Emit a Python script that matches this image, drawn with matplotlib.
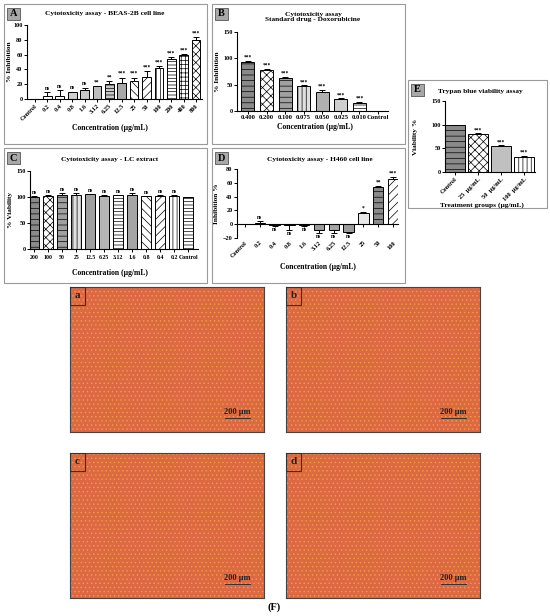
import numpy as np
import matplotlib
matplotlib.use('Agg')
import matplotlib.pyplot as plt
from matplotlib.patches import Rectangle

plt.rcParams['font.family'] = ['Liberation Serif', 'DejaVu Serif']
plt.rcParams['font.weight'] = 'bold'
plt.rcParams['axes.labelweight'] = 'bold'
plt.rcParams['hatch.linewidth'] = 0.5
plt.rcParams['axes.linewidth'] = 0.8

W, H = 550, 616

# ---------------- datos ----------------
a_conc = ['Control', '0.2', '0.4', '0.8', '1.6', '3.12', '6.25', '12.5', '25', '50', '100', '200', '400', '800']
a_val = [0, 4, 4, 9, 12, 17, 20, 22, 25, 30, 42, 54, 60, 80]
a_err = [0, 5, 8, 1, 3, 1, 4, 7, 4, 8, 3, 3, 1, 4]
a_sig = ['', 'ns', 'ns', 'ns', 'ns', '**', '**', '***', '***', '***', '***', '***', '***', '***']

b_conc = ['0.400', '0.200', '0.100', '0.075', '0.050', '0.025', '0.010', 'Control']
b_val = [93, 78, 62, 47, 36, 22, 16, 0]
b_err = [2, 2, 3, 2, 4, 2, 2, 0]
b_sig = ['***', '***', '***', '***', '***', '***', '***', '']

c_conc = ['200', '100', '50', '25', '12.5', '6.25', '3.12', '1.6', '0.8', '0.4', '0.2', 'Control']
c_val = [100, 102, 104, 104, 105, 102, 103, 104, 101, 102, 102, 100]
c_err = [1, 1, 3, 3, 1, 1, 1, 4, 1, 1, 1, 0]
c_sig = ['ns'] * 11 + ['']

d_conc = ['Control', '0.2', '0.4', '0.8', '1.6', '3.12', '6.25', '12.5', '25', '50', '100']
d_val = [0, 2, -1, -1, -1, -9, -8, -11, 16, 54, 66]
d_err = [0, 2, 1, 7, 1, 4, 5, 2, 2, 2, 3]
d_sig = ['', 'ns', 'ns', 'ns', 'ns', 'ns', 'ns', 'ns', '*', '**', '***']

e_groups = ['Control', '25  µg/mL', '50  µg/mL', '100  µg/mL']
e_val = [100, 81, 55, 31]
e_err = [0, 1, 1, 3]
e_sig = ['', '***', '***', '***']

# estilos de barras (relleno, trama)
a_style = [('white', ''), ('white', ''), ('white', ''), ('#d0d0d0', ''), ('#c8c8c8', ''), ('#bdbdbd', ''),
           ('#c8c8c8', '-----'), ('#a8a8a8', ''), ('white', '\\\\\\\\'), ('white', '////'),
           ('white', '||||'), ('white', '-----'), ('white', '++++'), ('white', 'xxxx')]
b_style = [('#8a8a8a', '---'), ('white', 'xxxx'), ('#a0a0a0', '---'), ('#e0e0e0', '||||'),
           ('#b0b0b0', ''), ('#cfcfcf', ''), ('white', '-----'), ('white', '')]
c_style = [('#8a8a8a', '---'), ('white', 'xxxx'), ('#a0a0a0', '---'), ('#e0e0e0', '||||'),
           ('#a0a0a0', ''), ('#b5b5b5', ''), ('white', '-----'), ('#a5a5a5', ''),
           ('white', '\\\\\\\\'), ('white', '////'), ('white', '||||'), ('white', '-----')]
d_style = [('white', ''), ('#b0b0b0', ''), ('white', ''), ('white', ''), ('#c0c0c0', ''),
           ('#9a9a9a', ''), ('#a5a5a5', ''), ('#9a9a9a', ''), ('#e8e8e8', ''),
           ('#8a8a8a', '---'), ('white', '////')]
e_style = [('#8a8a8a', '---'), ('white', 'xxxx'), ('#c0c0c0', ''), ('white', '||||')]

fig = plt.figure(figsize=(W / 100, H / 100), dpi=100)


def px_axes(x0, y0, x1, y1):
    ax = fig.add_axes([x0 / W, 1 - y1 / H, (x1 - x0) / W, (y1 - y0) / H])
    ax._px = (x0, x1)
    return ax


def ylabel_at(ax, text, xpx, size=5.3):
    x0, x1 = ax._px
    ax.set_ylabel(text, fontsize=size)
    ax.yaxis.set_label_coords((xpx - x0) / (x1 - x0), 0.5)


def frame(x0, y0, x1, y1, letter):
    fig.patches.append(Rectangle((x0 / W, 1 - y1 / H), (x1 - x0) / W, (y1 - y0) / H,
                                 transform=fig.transFigure, fill=False, edgecolor='#9a9a9a', lw=0.8))
    fig.patches.append(Rectangle(((x0 + 3) / W, 1 - (y0 + 16) / H), 13 / W, 12 / H,
                                 transform=fig.transFigure, facecolor='#a8a8a8', edgecolor='#555555', lw=0.6))
    fig.text((x0 + 9.5) / W, 1 - (y0 + 10) / H, letter, ha='center', va='center', fontsize=7.5,
             fontweight='bold')


def barras(ax, labels, vals, errs, sigs, styles, ylim, yticks, width=0.7, gap=2.0):
    x = np.arange(len(vals))
    vals = np.array(vals, dtype=float)
    errs = np.array(errs, dtype=float)
    for i in x:
        fc, hatch = styles[i]
        ax.bar(i, vals[i], width=width, color=fc, edgecolor='black', lw=0.7, hatch=hatch, zorder=2)
    lo = np.where(vals < 0, errs, 0)
    hi = np.where(vals >= 0, errs, 0)
    ax.errorbar(x, vals, yerr=[lo, hi], fmt='none', ecolor='black', elinewidth=0.7, capsize=2, capthick=0.7,
                zorder=3)
    for i in x:
        if not sigs[i]:
            continue
        if vals[i] >= 0:
            ax.text(i, vals[i] + errs[i] + gap, sigs[i], ha='center', va='bottom', fontsize=4)
        else:
            ax.text(i, vals[i] - errs[i] - gap, sigs[i], ha='center', va='top', fontsize=4)
    ax.set_ylim(*ylim)
    ax.set_yticks(yticks)
    ax.set_xticks(x)
    ax.spines['top'].set_visible(False)
    ax.spines['right'].set_visible(False)
    ax.tick_params(length=2, width=0.7, labelsize=4.5, pad=1.2)
    for t in ax.get_yticklabels():
        t.set_fontweight('bold')
    return x


# ---------------- A ----------------
frame(4, 4, 207, 144, 'A')
ax = px_axes(27, 25, 202, 99)
barras(ax, a_conc, a_val, a_err, a_sig, a_style, (0, 100), [0, 20, 40, 60, 80, 100])
ax.set_xlim(-0.65, 13.48)
ax.set_xticklabels(a_conc, rotation=45, ha='right', rotation_mode='anchor', fontsize=4.6, fontweight='bold')
ylabel_at(ax, '% Inhibition', 12)
fig.text(105 / W, 1 - 14 / H, 'Cytotoxicity assay - BEAS-2B cell line', ha='center', va='center', fontsize=5.3)
fig.text(110 / W, 1 - 128 / H, 'Concentration (µg/mL)', ha='center', va='center', fontsize=5.5)

# ---------------- B ----------------
frame(212, 4, 405, 144, 'B')
ax = px_axes(237, 32, 388, 111)
barras(ax, b_conc, b_val, b_err, b_sig, b_style, (0, 150), [0, 50, 100, 150])
ax.set_xlim(-0.59, 7.54)
ax.set_xticklabels(b_conc, fontsize=4.8, fontweight='bold')
ylabel_at(ax, '% Inhibition', 220)
fig.text(313 / W, 1 - 17 / H, 'Cytotoxicity assay\nStandard drug - Doxorubicine', ha='center', va='center',
         fontsize=5.3, linespacing=1.2)
fig.text(315 / W, 1 - 127 / H, 'Concentration (µg/mL)', ha='center', va='center', fontsize=5.5)

# ---------------- C ----------------
frame(4, 148, 207, 283, 'C')
ax = px_axes(30, 171, 198, 249)
barras(ax, c_conc, c_val, c_err, c_sig, c_style, (0, 150), [0, 50, 100, 150], width=0.75)
ax.set_xlim(-0.3, 11.7)
ax.set_xticklabels(c_conc, fontsize=4.2, fontweight='bold')
ax.get_xticklabels()[-1].set_x(11.15)
ax.tick_params(axis='x', pad=2.5)
ylabel_at(ax, '% Viability', 13)
fig.text(110 / W, 1 - 160 / H, 'Cytotoxicity assay - LC extract', ha='center', va='center', fontsize=5.3)
fig.text(110 / W, 1 - 273 / H, 'Concentration (µg/mL)', ha='center', va='center', fontsize=5.5)

# ---------------- D ----------------
frame(212, 148, 405, 283, 'D')
ax = px_axes(237, 169, 398, 238)
barras(ax, d_conc, d_val, d_err, d_sig, d_style, (-20, 80), [-20, 0, 20, 40, 60, 80], gap=1.5)
ax.set_xlim(-0.54, 10.34)
ax.spines['bottom'].set_position(('data', 0))
ax.tick_params(axis='x', labelbottom=False)
for i, lab in enumerate(d_conc):
    ax.text(i, -23, lab, rotation=45, ha='right', va='top', rotation_mode='anchor', fontsize=4.6)
ylabel_at(ax, 'Inhibition %', 219)
fig.text(320 / W, 1 - 159 / H, 'Cytotoxicity assay - H460 cell line', ha='center', va='center', fontsize=5.3)
fig.text(318 / W, 1 - 267 / H, 'Concentration (µg/mL)', ha='center', va='center', fontsize=5.5)

# ---------------- E ----------------
frame(408, 80, 547, 208, 'E')
ax = px_axes(445, 101, 535, 172)
barras(ax, e_groups, e_val, e_err, e_sig, e_style, (0, 150), [0, 50, 100, 150], width=0.87)
ax.set_xlim(-0.43, 3.48)
ax.set_xticklabels(e_groups, rotation=45, ha='right', rotation_mode='anchor', fontsize=4.6, fontweight='bold')
ylabel_at(ax, 'Viability %', 418)
fig.text(480 / W, 1 - 91 / H, 'Trypan blue viability assay', ha='center', va='center', fontsize=5.3)
fig.text(482 / W, 1 - 205 / H, 'Treatment groups (µg/mL)', ha='center', va='center', fontsize=5.3)

# ---------------- F: micrografías ----------------
img_boxes = [(70, 287, 264, 432, 'a'), (286, 287, 480, 432, 'b'),
             (70, 453, 264, 598, 'c'), (286, 453, 480, 598, 'd')]
for x0, y0, x1, y1, lab in img_boxes:
    ax = px_axes(x0, y0, x1, y1)
    ax.set_xlim(0, 1)
    ax.set_ylim(0, 1)
    ax.add_patch(Rectangle((0, 0), 1, 1, facecolor='#dc6844', edgecolor='#eea040', hatch='....', lw=0))
    ax.set_xticks([])
    ax.set_yticks([])
    for s in ax.spines.values():
        s.set_edgecolor('#444444')
        s.set_linewidth(0.8)
    ax.add_patch(Rectangle((0, 1 - 18 / 145), 15 / 194, 18 / 145, fill=False, edgecolor='#333333', lw=0.8,
                           zorder=4))
    ax.text(7.5 / 194, 1 - 9 / 145, lab, ha='center', va='center', fontsize=8, color='#222222')
    ax.plot([155 / 194, 180 / 194], [14 / 145, 14 / 145], color='#333333', lw=0.7)
    ax.text(167.5 / 194, 16 / 145, '200 µm', ha='center', va='bottom', fontsize=6, color='#222222')

fig.text(274 / W, 1 - 607 / H, '(F)', ha='center', va='center', fontsize=7.5)

fig.savefig('out.png', dpi=100)
